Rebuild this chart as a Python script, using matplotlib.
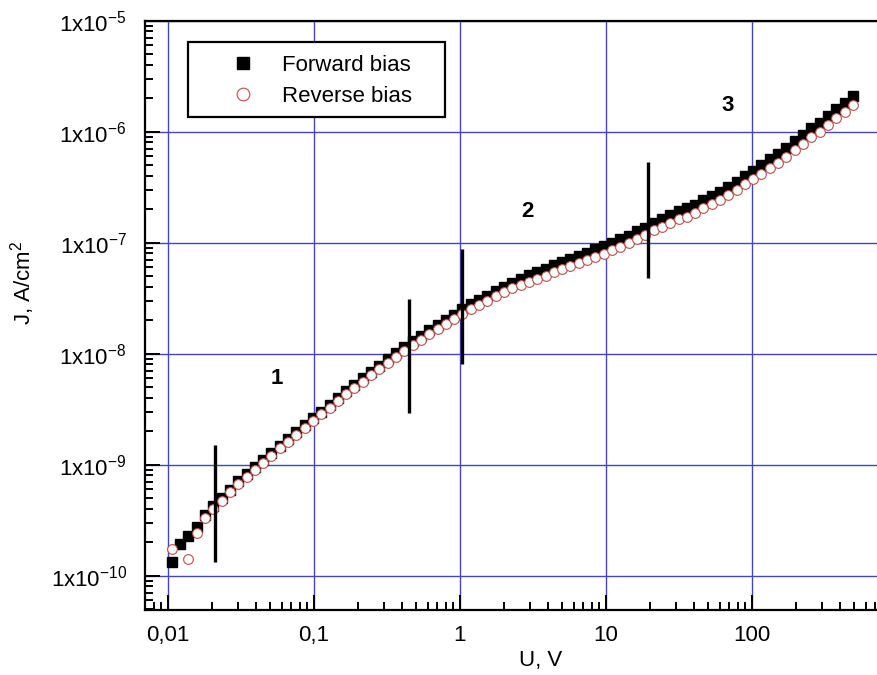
import matplotlib
matplotlib.use("Agg")
import matplotlib.pyplot as plt
from matplotlib.patches import Rectangle
from matplotlib.ticker import LogLocator, NullFormatter, FixedLocator, FixedFormatter

plt.rcParams['font.family'] = ['Liberation Sans', 'DejaVu Sans']
plt.rcParams['mathtext.default'] = 'regular'

# measured J(U) curves
u_forward = [0.0106, 0.0121, 0.0138, 0.0157, 0.0179, 0.0204, 0.0233, 0.0265, 0.0302, 0.0345,
             0.0393, 0.0448, 0.0511, 0.0582, 0.0664, 0.0757, 0.0863, 0.0983, 0.112, 0.128,
             0.146, 0.166, 0.189, 0.216, 0.246, 0.281, 0.320, 0.365, 0.416, 0.474,
             0.540, 0.616, 0.702, 0.800, 0.912, 1.04, 1.19, 1.35, 1.54, 1.76,
             2.00, 2.28, 2.60, 2.97, 3.38, 3.86, 4.40, 5.01, 5.71, 6.51,
             7.42, 8.46, 9.65, 11.0, 12.5, 14.3, 16.3, 18.6, 21.2, 24.1,
             27.5, 31.4, 35.8, 40.8, 46.5, 53.0, 60.4, 68.9, 78.5, 89.5,
             102, 116, 133, 151, 172, 196, 224, 255, 291, 332,
             378, 431, 492]
j_forward = [1.32e-10, 1.92e-10, 2.28e-10, 2.77e-10, 3.52e-10, 4.25e-10, 4.98e-10, 5.92e-10, 7.13e-10, 8.26e-10,
             9.57e-10, 1.11e-9, 1.28e-9, 1.48e-9, 1.71e-9, 1.97e-9, 2.27e-9, 2.62e-9, 3.01e-9, 3.46e-9,
             3.96e-9, 4.60e-9, 5.26e-9, 6.00e-9, 6.84e-9, 7.80e-9, 8.87e-9, 1.01e-8, 1.14e-8, 1.30e-8,
             1.45e-8, 1.62e-8, 1.81e-8, 2.01e-8, 2.24e-8, 2.54e-8, 2.80e-8, 3.06e-8, 3.34e-8, 3.65e-8,
             3.97e-8, 4.35e-8, 4.71e-8, 5.09e-8, 5.41e-8, 5.79e-8, 6.25e-8, 6.71e-8, 7.13e-8, 7.57e-8,
             8.04e-8, 8.71e-8, 9.33e-8, 1.00e-7, 1.07e-7, 1.15e-7, 1.27e-7, 1.37e-7, 1.52e-7, 1.63e-7,
             1.77e-7, 1.93e-7, 2.04e-7, 2.19e-7, 2.43e-7, 2.65e-7, 2.88e-7, 3.20e-7, 3.55e-7, 3.99e-7,
             4.43e-7, 5.00e-7, 5.62e-7, 6.24e-7, 7.16e-7, 8.22e-7, 9.31e-7, 1.07e-6, 1.20e-6, 1.38e-6,
             1.59e-6, 1.80e-6, 2.11e-6]

u_reverse = [0.0106, 0.0138, 0.0157, 0.0179, 0.0204, 0.0233, 0.0265, 0.0302, 0.0345,
             0.0393, 0.0448, 0.0511, 0.0582, 0.0664, 0.0757, 0.0863, 0.0983, 0.112, 0.128,
             0.146, 0.166, 0.189, 0.216, 0.246, 0.281, 0.320, 0.365, 0.416, 0.474,
             0.540, 0.616, 0.702, 0.800, 0.912, 1.04, 1.19, 1.35, 1.54, 1.76,
             2.00, 2.28, 2.60, 2.97, 3.38, 3.86, 4.40, 5.01, 5.71, 6.51,
             7.42, 8.46, 9.65, 11.0, 12.5, 14.3, 16.3, 18.6, 21.2, 24.1,
             27.5, 31.4, 35.8, 40.8, 46.5, 53.0, 60.4, 68.9, 78.5, 89.5,
             102, 116, 133, 151, 172, 196, 224, 255, 291, 332,
             378, 431, 492]
j_reverse = [1.74e-10, 1.41e-10, 2.41e-10, 3.29e-10, 3.96e-10, 4.71e-10, 5.64e-10, 6.65e-10, 7.80e-10,
             9.04e-10, 1.04e-9, 1.21e-9, 1.40e-9, 1.61e-9, 1.86e-9, 2.14e-9, 2.48e-9, 2.84e-9, 3.27e-9,
             3.74e-9, 4.30e-9, 4.91e-9, 5.60e-9, 6.38e-9, 7.28e-9, 8.28e-9, 9.40e-9, 1.06e-8, 1.20e-8,
             1.34e-8, 1.50e-8, 1.67e-8, 1.86e-8, 2.07e-8, 2.29e-8, 2.52e-8, 2.76e-8, 3.01e-8, 3.29e-8,
             3.58e-8, 3.87e-8, 4.15e-8, 4.44e-8, 4.71e-8, 5.05e-8, 5.45e-8, 5.85e-8, 6.21e-8, 6.59e-8,
             7.00e-8, 7.45e-8, 7.98e-8, 8.55e-8, 9.16e-8, 9.84e-8, 1.08e-7, 1.17e-7, 1.30e-7, 1.39e-7,
             1.51e-7, 1.63e-7, 1.71e-7, 1.84e-7, 2.04e-7, 2.23e-7, 2.43e-7, 2.69e-7, 2.99e-7, 3.36e-7,
             3.72e-7, 4.16e-7, 4.68e-7, 5.19e-7, 5.96e-7, 6.84e-7, 7.74e-7, 8.91e-7, 1.00e-6, 1.15e-6,
             1.32e-6, 1.50e-6, 1.74e-6]

x_ticks = [0.01, 0.1, 1, 10, 100]
x_tick_labels = ['0,01', '0,1', '1', '10', '100']
y_ticks = [1e-10, 1e-9, 1e-8, 1e-7, 1e-6, 1e-5]
y_tick_labels = ['1x10$^{-10}$', '1x10$^{-9}$', '1x10$^{-8}$',
                 '1x10$^{-7}$', '1x10$^{-6}$', '1x10$^{-5}$']

# region boundaries (vertical bars) and region numbers
bound_u = [0.021, 0.45, 1.04, 19.5]
bound_lo = [1.34e-10, 2.9e-9, 8.1e-9, 4.8e-8]
bound_hi = [1.5e-9, 3.1e-8, 8.8e-8, 5.3e-7]
region_names = ['1', '2', '3']
region_u = [0.0556, 2.89, 67.8]
region_j = [6.0e-9, 1.9e-7, 1.74e-6]

fig = plt.figure(figsize=(8.77, 6.75), dpi=100)
ax = fig.add_axes([145 / 877, 65 / 675, 732 / 877, 589.3 / 675])
ax.set_xscale('log')
ax.set_yscale('log')
ax.set_xlim(0.00696, 718)
ax.set_ylim(4.91e-11, 1e-5)

ax.grid(True, which='major', color='#4444c4', lw=1.0)
ax.set_axisbelow(True)

ax.plot(u_forward, j_forward, ls='none', marker='s', ms=6.8, color='black',
        label='Forward bias', zorder=3)
ax.plot(u_reverse, j_reverse, ls='none', marker='o', ms=7.0, mfc='white',
        mec='#b8504c', mew=0.8, label='Reverse bias', zorder=4)

ax.vlines(bound_u, bound_lo, bound_hi, color='black', lw=2.4, zorder=5)
for name, u, j in zip(region_names, region_u, region_j):
    ax.text(u, j, name, fontsize=16, fontweight='bold', ha='center', va='center')

ax.xaxis.set_major_locator(FixedLocator(x_ticks))
ax.xaxis.set_major_formatter(FixedFormatter(x_tick_labels))
ax.xaxis.set_minor_locator(LogLocator(base=10, subs=range(2, 10), numticks=20))
ax.xaxis.set_minor_formatter(NullFormatter())
ax.yaxis.set_major_locator(FixedLocator(y_ticks))
ax.yaxis.set_major_formatter(FixedFormatter(y_tick_labels))
ax.yaxis.set_minor_locator(LogLocator(base=10, subs=range(2, 10), numticks=20))
ax.yaxis.set_minor_formatter(NullFormatter())

ax.tick_params(which='both', direction='in', top=False, right=False, width=1.4, labelsize=16)
ax.tick_params(which='major', length=11)
ax.tick_params(which='minor', length=5.8)
ax.tick_params(axis='y', pad=13)
ax.tick_params(axis='x', pad=11)

for side in ['left', 'bottom', 'top']:
    ax.spines[side].set_linewidth(1.6)
ax.spines['right'].set_visible(False)

ax.set_xlabel('U, V', fontsize=16)
ax.set_ylabel('J, A/cm$^{2}$', fontsize=16)
ax.xaxis.set_label_coords(0.540, -0.068)
ax.yaxis.set_label_coords(-0.148, 0.555)

# legend box drawn separately so the padding can match the original
ax.add_patch(Rectangle((0.0587, 0.8366), 0.351, 0.1278, transform=ax.transAxes,
                       facecolor='white', edgecolor='black', lw=1.6, zorder=6))
leg = ax.legend(loc='upper left', bbox_to_anchor=(0.1036, 0.9425), borderaxespad=0,
                borderpad=0, fontsize=16, markerscale=1.3, handlelength=2.0,
                handletextpad=0.76, labelspacing=0.46, frameon=False)
leg.set_zorder(7)

fig.savefig('out.png', dpi=100)
